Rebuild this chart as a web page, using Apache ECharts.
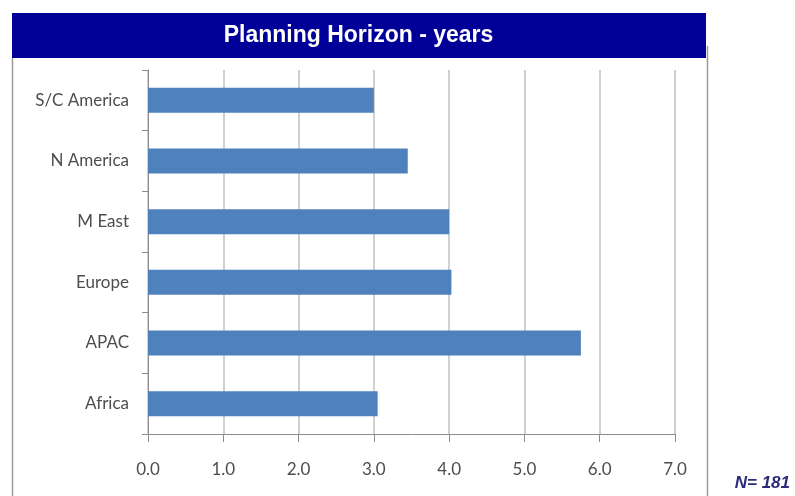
<!DOCTYPE html>
<html>
<head>
<meta charset="utf-8">
<script src="https://cdn.jsdelivr.net/npm/echarts@6/dist/echarts.min.js"></script>
<style>
  html, body { margin: 0; padding: 0; background: #ffffff; }
  #chart { width: 795px; height: 496px; }
</style>
</head>
<body>
<div id="chart"></div>
<script>
// Regions and average planning horizon (years)
const regions = ['S/C America', 'N America', 'M East', 'Europe', 'APAC', 'Africa'];
const horizonYears = [3.0, 3.45, 4.0, 4.03, 5.75, 3.05];
const titleText = 'Planning Horizon - years';
const sampleNote = 'N= 181';

const chart = echarts.init(document.getElementById('chart'), null, { renderer: 'canvas' });

const axisGray = '#8c8c8c';
const gridGray = '#c0c0c0';
const labelGray = '#4d4d4d';
const labelFont = 'Lato, "Open Sans", sans-serif';

chart.setOption({
  backgroundColor: '#ffffff',
  animation: false,
  graphic: [
    // header band
    { type: 'rect', shape: { x: 12, y: 13, width: 694, height: 45 }, style: { fill: '#000099' }, z: 10 },
    { type: 'text', x: 358.5, y: 36, style: { text: titleText, fill: '#ffffff', font: 'bold 23px "Liberation Sans", Arial, sans-serif', textAlign: 'center', textVerticalAlign: 'middle' }, z: 11 },
    // frame lines
    { type: 'line', shape: { x1: 12.5, y1: 58, x2: 12.5, y2: 496 }, style: { stroke: '#9a9a9a', lineWidth: 1.5 }, z: 5 },
    { type: 'line', shape: { x1: 707.5, y1: 46, x2: 707.5, y2: 496 }, style: { stroke: '#9a9a9a', lineWidth: 1.5 }, z: 5 },
    // sample size note
    { type: 'text', x: 790, y: 483, style: { text: sampleNote, fill: '#2b2b7a', font: 'italic bold 17px "Liberation Sans", Arial, sans-serif', textAlign: 'right', textVerticalAlign: 'middle' }, z: 11 }
  ],
  grid: { left: 148, right: 120, top: 70, bottom: 62, containLabel: false },
  xAxis: {
    type: 'value',
    min: 0,
    max: 7,
    interval: 1,
    axisLine: { show: true, lineStyle: { color: axisGray, width: 1 } },
    axisTick: { show: true, length: 8, lineStyle: { color: axisGray } },
    splitLine: { show: true, lineStyle: { color: gridGray, width: 1.5 } },
    axisLabel: {
      color: labelGray,
      fontFamily: labelFont,
      fontSize: 17,
      margin: 27,
      formatter: v => v.toFixed(1)
    }
  },
  yAxis: {
    type: 'category',
    data: regions,
    inverse: true,
    axisLine: { show: true, lineStyle: { color: axisGray, width: 1 } },
    axisTick: { show: true, length: 6, lineStyle: { color: axisGray } },
    axisLabel: { color: labelGray, fontFamily: labelFont, fontSize: 17, margin: 19 }
  },
  series: [{
    type: 'bar',
    data: horizonYears,
    barWidth: 25,
    itemStyle: { color: '#4f81bd' }
  }]
});
</script>
</body>
</html>
